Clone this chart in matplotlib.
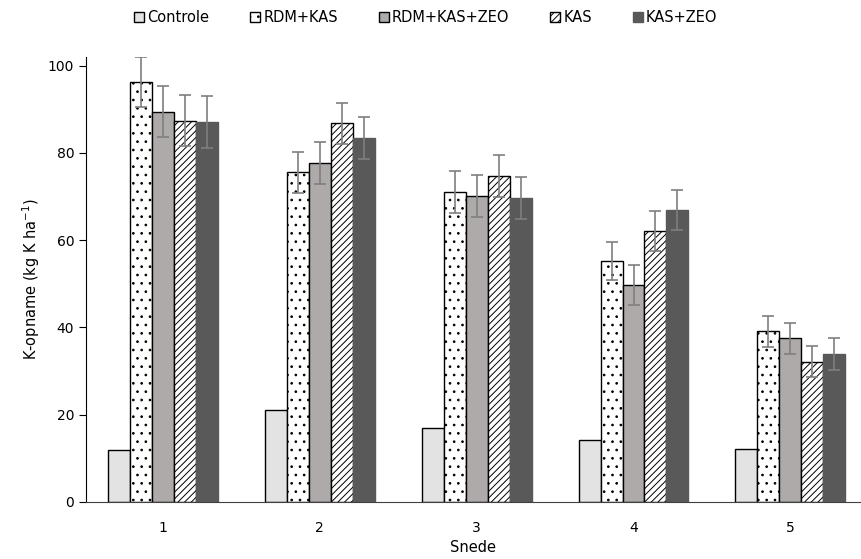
import matplotlib.pyplot as plt
import numpy as np

plt.rcParams['font.family'] = ['DejaVu Sans']
plt.rcParams['hatch.linewidth'] = 0.7

snede = [1, 2, 3, 4, 5]
names = ["Controle", "RDM+KAS", "RDM+KAS+ZEO", "KAS", "KAS+ZEO"]

controle = [11.9, 21.0, 17.0, 14.2, 12.1]
rdm_kas = [96.3, 75.6, 71.0, 55.2, 39.1]
rdm_kas_zeo = [89.5, 77.7, 70.2, 49.8, 37.5]
kas = [87.4, 86.8, 74.8, 62.2, 32.2]
kas_zeo = [87.1, 83.5, 69.7, 67.0, 34.0]

err_rdm_kas = [5.7, 4.7, 4.8, 4.4, 3.6]
err_rdm_kas_zeo = [5.8, 4.8, 4.8, 4.6, 3.6]
err_kas = [5.8, 4.7, 4.8, 4.6, 3.6]
err_kas_zeo = [5.9, 4.8, 4.9, 4.6, 3.7]

series = [controle, rdm_kas, rdm_kas_zeo, kas, kas_zeo]
errors = [None, err_rdm_kas, err_rdm_kas_zeo, err_kas, err_kas_zeo]
faces = ['#e3e3e3', 'white', '#aeaaaa', 'white', '#595959']
hatches = [None, '..', None, '/////', None]
edges = ['black', 'black', 'black', 'black', '#595959']

fig = plt.figure(figsize=(8.62, 5.59), dpi=100)
ax = fig.add_axes([0.0998, 0.102, 0.899, 0.796])

x = np.array(snede, dtype=float)
w = 0.14
for i in range(5):
    pos = x + (i - 2) * w
    ax.bar(pos, series[i], width=w, color=faces[i], edgecolor=edges[i],
           hatch=hatches[i], linewidth=1.0, label=names[i], zorder=2)
    if errors[i] is not None:
        ax.errorbar(pos, series[i], yerr=errors[i], fmt='none', ecolor='#7f7f7f',
                    elinewidth=1.2, capsize=4, capthick=1.2, zorder=3)

ax.set_xlim(0.51, 5.45)
ax.set_ylim(0, 102)
ax.set_yticks([0, 20, 40, 60, 80, 100])
ax.set_xticks(snede)
ax.tick_params(axis='x', length=0, labelsize=10, pad=14)
ax.tick_params(axis='y', length=5, labelsize=10, direction='out')
ax.spines['top'].set_visible(False)
ax.spines['right'].set_visible(False)
ax.spines['bottom'].set_color('#404040')
ax.set_xlabel('Snede', fontsize=10.5, labelpad=3)
ax.set_ylabel('K-opname (kg K ha$^{-1}$)', fontsize=10.5)

fig.legend(loc='upper center', bbox_to_anchor=(0.494, 1.005), ncol=5, frameon=False,
           fontsize=10.5, handlelength=0.7, handleheight=0.7, handletextpad=0.2,
           columnspacing=2.8)

fig.savefig('out.png', dpi=100)
